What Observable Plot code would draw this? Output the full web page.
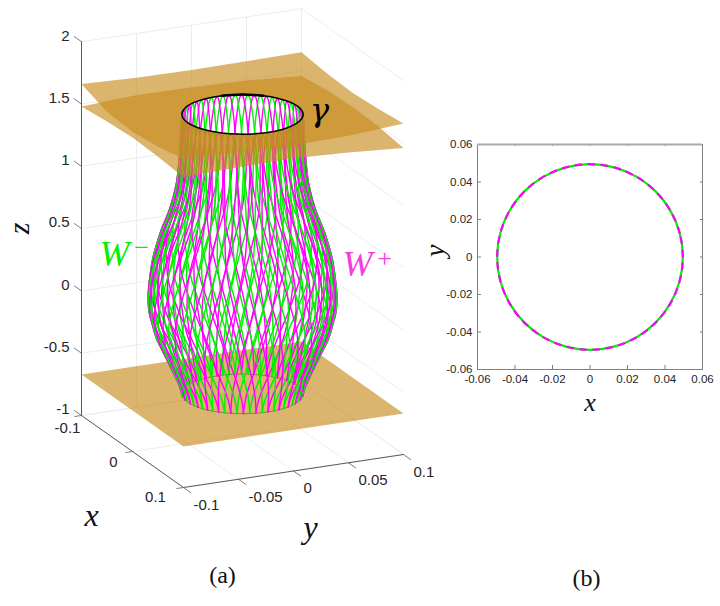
<!DOCTYPE html>
<html><head><meta charset="utf-8">
<style>
html,body{margin:0;padding:0;background:#fff}
#a,#b{position:absolute}
#a{left:0;top:0}#b{left:430px;top:130px}
svg{fill-rule:evenodd}
</style>
<script src="https://cdn.jsdelivr.net/npm/d3@7"></script>
<script src="https://cdn.jsdelivr.net/npm/@observablehq/plot@0.6"></script>
</head><body><div id="a"></div><div id="b"></div>
<script>
// ---- data ----
const zTicks=[-1,-0.5,0,0.5,1,1.5,2];
const xTicks=[-0.1,0,0.1];
const yTicks=[-0.1,-0.05,0,0.05,0.1];
// manifold table: height, radius, twist of the strands
const tableZ=[1.573,1.55,1.5,1.4,1.3,1.15,1.0,0.8,0.6,0.4,0.2,0.1,0,-0.1,-0.2,-0.3,-0.4,-0.5,-0.6,-0.67];
const tableR=[0.05,0.0502,0.0505,0.051,0.0515,0.0528,0.0548,0.0602,0.0682,0.0742,0.0772,0.0779,0.0772,0.0745,0.0715,0.0665,0.0615,0.0565,0.052,0.05];
const tableT=[0,0.03,0.05,0.08,0.1,0.118,0.135,0.16,0.2,0.26,0.33,0.365,0.4,0.435,0.47,0.505,0.545,0.585,0.615,0.628];
const magentaPhases=[0,12,24,36,48,60,72,84,96,108,120,132,144,156,168,180,192,204,216,228,240,252,264,276,288,300,312,324,336,348];
const greenPhases=[6,18,30,42,54,66,78,90,102,114,126,138,150,162,174,186,198,210,222,234,246,258,270,282,294,306,318,330,342,354];
const ringAngles=[0,15,30,45,60,75,90,105,120,135,150,165,180,195,210,225,240,255,270,285,300,315,330,345];
const backArc=[135,145,155,165,175];
const gammaR=0.05, gammaZ=1.573, baseZ=-0.67, planeR=0.0495;
const edgeS=[-0.1,-0.05,0,0.05,0.1];
// sheet heights along the four edges
const upperLeft=[1.66,1.58,1.567,1.59,1.64];
const upperFront=[1.64,1.62,1.615,1.625,1.656];
const upperRight=[1.656,1.63,1.615,1.625,1.65];
const upperBack=[1.65,1.645,1.64,1.645,1.66];
const lowerLeft=[1.48,1.505,1.52,1.51,1.49];
const lowerFront=[1.49,1.505,1.51,1.49,1.46];
const lowerRight=[1.46,1.49,1.5,1.49,1.46];
const lowerBack=[1.46,1.49,1.5,1.505,1.48];
const basePlane=[[-0.1,-0.1],[0.1,-0.1],[0.1,0.1],[-0.1,0.1]];
const panelTicks=[-0.06,-0.04,-0.02,0,0.02,0.04,0.06];

// ---- view of the 3-D box ----
const px=(x,y)=>81+510*(x+0.1)+1100*(y+0.1);
const py=(x,y,z)=>415+360*(x+0.1)-165*(y+0.1)-124.6*(z+1);
const P=(x,y,z,extra={})=>({sx:px(x,y),sy:py(x,y,z),...extra});
const rad=d=>d*Math.PI/180;
const at=(r,deg,z,extra)=>P(r*Math.cos(rad(deg)),r*Math.sin(rad(deg)),z,extra);

function strands(){
  const rows=[];
  magentaPhases.forEach((_,k)=>{
    [[magentaPhases[k],"#ff00ff"],[greenPhases[k],"#00f000"]].forEach(([ph,col])=>{
      [1,-1].forEach(sgn=>{
        tableZ.forEach((z,i)=>{
          const a=rad(ph)+sgn*tableT[i];
          rows.push(P(tableR[i]*Math.cos(a),tableR[i]*Math.sin(a),z,{id:col+k+"/"+sgn,col}));
        });
      });
    });
  });
  return rows;
}
function sheet(left,front,right,back){
  const rows=[];
  edgeS.forEach((s,i)=>rows.push(P(s,-0.1,left[i])));
  edgeS.forEach((s,i)=>{if(i)rows.push(P(0.1,s,front[i]))});
  edgeS.forEach((s,i)=>{if(i)rows.push(P(-s,0.1,right[i]))});
  edgeS.forEach((s,i)=>{if(i)rows.push(P(-0.1,-s,back[i]))});
  rows.push(rows[0]);
  rows.push({sx:NaN,sy:NaN});
  ringAngles.concat(ringAngles[0]).forEach(d=>rows.push(at(gammaR,d,gammaZ)));
  return rows;
}
const seg=(rows,o)=>Plot.line(rows,{x:"sx",y:"sy",z:"id",...o});
const grid=[];
let gid=0;
const addGrid=(A,B)=>{gid++;grid.push(P(...A,{id:gid}),P(...B,{id:gid}));};
zTicks.forEach(z=>{addGrid([-0.1,-0.1,z],[-0.1,0.1,z]);addGrid([-0.1,0.1,z],[0.1,0.1,z]);});
xTicks.forEach(x=>{addGrid([x,-0.1,-1],[x,0.1,-1]);});
yTicks.forEach(y=>{addGrid([-0.1,y,-1],[0.1,y,-1]);addGrid([-0.1,y,-1],[-0.1,y,2]);});
const axes=[P(-0.1,-0.1,2,{id:1}),P(-0.1,-0.1,-1,{id:1}),P(0.1,-0.1,-1,{id:1}),P(0.1,0.1,-1,{id:1})];
const ticks=[];
let tid=10;
const addTick=(A,B)=>{tid++;ticks.push(P(...A,{id:tid}),P(...B,{id:tid}));};
zTicks.forEach(z=>addTick([-0.1,-0.1,z],[-0.114,-0.1,z]));
xTicks.forEach(x=>addTick([x,-0.1,-1],[x,-0.106,-1]));
yTicks.forEach(y=>addTick([0.1,y,-1],[0.114,y,-1]));

const tickFont={fontFamily:"Liberation Sans",fontSize:15,fill:"#262626"};
const mathFont={fontFamily:"Liberation Serif",fontStyle:"italic"};
const sheetFill="#c88c1e";

const label=(t,x,y,z,o)=>Plot.text([P(x,y,z,{t})],{x:"sx",y:"sy",text:"t",...o});
const fixed=(t,sx,sy,o)=>Plot.text([{sx,sy,t}],{x:"sx",y:"sy",text:"t",...o});

const planA=Plot.plot({
  width:720,height:606,margin:0,
  x:{domain:[0,720],range:[0,720],axis:null},
  y:{domain:[606,0],range:[606,0],axis:null},
  color:{type:"identity"},
  style:{background:"transparent"},
  marks:[
    seg(grid,{stroke:"#e8e8e8",strokeWidth:0.8}),
    seg(axes,{stroke:"#5a5a5a",strokeWidth:1}),
    seg(ticks,{stroke:"#5a5a5a",strokeWidth:0.8}),
    Plot.line(basePlane.concat([basePlane[0]]).map(c=>P(c[0],c[1],baseZ)),{x:"sx",y:"sy",fill:sheetFill,fillOpacity:0.65,stroke:"none"}),
    Plot.line(ringAngles.map(d=>at(gammaR,d,baseZ)),{x:"sx",y:"sy",stroke:"#6f8f3a",strokeWidth:1,curve:"catmull-rom-closed"}),
    seg(strands(),{stroke:"col",strokeWidth:1.4,curve:"catmull-rom"}),
    Plot.line(sheet(lowerLeft,lowerFront,lowerRight,lowerBack),{x:"sx",y:"sy",fill:sheetFill,fillOpacity:0.65,stroke:"none"}),
    Plot.line(sheet(upperLeft,upperFront,upperRight,upperBack),{x:"sx",y:"sy",fill:sheetFill,fillOpacity:0.65,stroke:"none"}),
    Plot.line(ringAngles.map(d=>at(gammaR,d,gammaZ)),{x:"sx",y:"sy",stroke:"#000",strokeWidth:1.5,curve:"catmull-rom-closed"}),
    Plot.line(backArc.map(d=>at(gammaR,d,gammaZ)),{x:"sx",y:"sy",stroke:"#000",strokeWidth:2.5,curve:"catmull-rom"}),
    // tick labels
    ...zTicks.map(z=>label(String(z),-0.1,-0.1,z,{...tickFont,textAnchor:"end",dx:-12,dy:-6})),
    label("-0.1",-0.1,-0.1,-1,{...tickFont,dx:-14,dy:13}),
    label("0",0,-0.1,-1,{...tickFont,dx:-19,dy:11}),
    label("0.1",0.1,-0.1,-1,{...tickFont,dx:-28,dy:10}),
    ...yTicks.map(y=>label(String(y),0.1,y,-1,{...tickFont,textAnchor:"start",dx:10,dy:17.5})),
    // axis and curve names
    fixed("z",19,228,{...mathFont,fontSize:30,rotate:-90,fill:"#111"}),
    fixed("x",91,515,{...mathFont,fontSize:32,fill:"#111"}),
    fixed("y",310,527,{...mathFont,fontSize:32,fill:"#111"}),
    fixed("γ",319,110,{fontFamily:"DejaVu Serif",fontStyle:"italic",fontSize:32,fill:"#000"}),
    fixed("W",114,254,{...mathFont,fontSize:36,fill:"#00f000"}),
    fixed("−",141,247,{fontFamily:"Liberation Serif",fontSize:26,fill:"#00f000"}),
    fixed("W",357,264,{...mathFont,fontSize:36,fill:"#f53ce0"}),
    fixed("+",384,258,{fontFamily:"Liberation Serif",fontSize:26,fill:"#f53ce0"}),
    fixed("(a)",222,575,{fontFamily:"Liberation Serif",fontSize:24,fill:"#111"}),
    fixed("(b)",586,578,{fontFamily:"Liberation Serif",fontSize:24,fill:"#111"})
  ]
});
document.getElementById("a").append(planA);

const circle=ringAngles.map(d=>({cx:planeR*Math.cos(rad(d)),cy:planeR*Math.sin(rad(d))}));
const fmt=d=>String(d);
const planB=Plot.plot({
  width:290,height:290,marginLeft:47,marginTop:14,marginRight:18,marginBottom:51,
  x:{domain:[-0.06,0.06]},y:{domain:[-0.06,0.06]},
  style:{background:"transparent",overflow:"visible"},
  marks:[
    Plot.frame({stroke:"#808080",strokeWidth:1}),
    Plot.axisX({ticks:panelTicks,anchor:"bottom",tickFormat:fmt,label:null,tickSize:-4,fontSize:11.5,fontFamily:"Liberation Sans",stroke:"#808080",color:"#262626",tickPadding:9}),
    Plot.axisY({ticks:panelTicks,anchor:"left",tickFormat:fmt,label:null,tickSize:-4,fontSize:11.5,fontFamily:"Liberation Sans",stroke:"#808080",color:"#262626",tickPadding:9}),
    Plot.ruleX(panelTicks,{x:d=>d,y1:0.06,y2:0.0589,stroke:"#808080"}),
    Plot.ruleY(panelTicks,{y:d=>d,x1:0.06,x2:0.0589,stroke:"#808080"}),
    Plot.ruleY([0.06],{stroke:"#aaa",strokeWidth:2}),
    Plot.line(circle,{x:"cx",y:"cy",stroke:"#00f000",strokeWidth:2.2,curve:"catmull-rom-closed"}),
    Plot.line(circle,{x:"cx",y:"cy",stroke:"#ff00ff",strokeWidth:2.2,curve:"catmull-rom-closed",strokeDasharray:"6 7"}),
    Plot.text(["x"],{frameAnchor:"bottom",dy:41,text:d=>d,...mathFont,fontSize:26,fill:"#111"}),
    Plot.text(["y"],{frameAnchor:"left",dx:-42,text:d=>d,rotate:-90,...mathFont,fontSize:28,fill:"#111"})
  ]
});
document.getElementById("b").append(planB);
</script></body></html>
